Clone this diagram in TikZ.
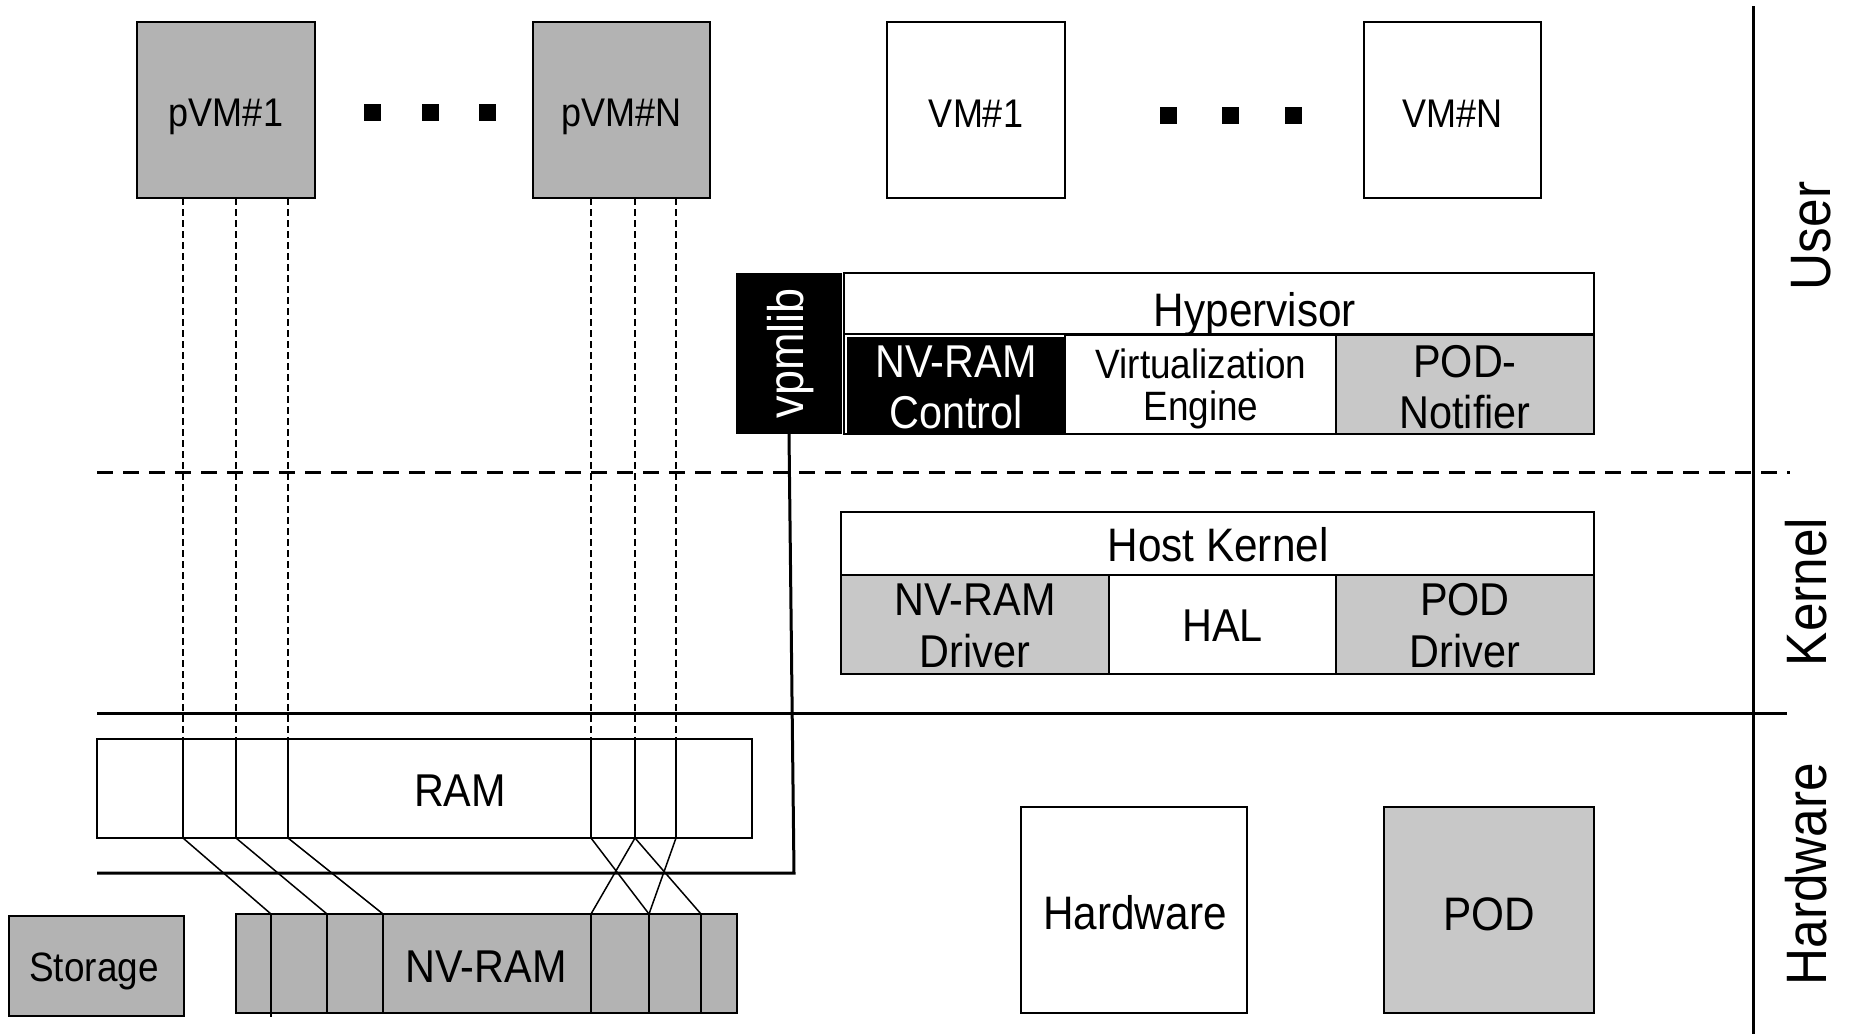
\documentclass[tikz,border=0pt]{standalone}
\usepackage{fontspec}
\setmainfont{Liberation Sans}[FakeStretch=0.9]
\usetikzlibrary{calc}
\definecolor{dgray}{HTML}{B3B3B3}
\definecolor{lgray}{HTML}{C8C8C8}
\newcommand\fsz[2]{\fontsize{#1}{#2}\selectfont}
\tikzset{
  bx/.style={draw, line width=2pt, inner sep=0pt, outer sep=0pt, anchor=center, align=center},
  lbl/.style={inner sep=0pt, outer sep=0pt, align=center},
  sq/.style={fill=black, inner sep=0pt, minimum size=17pt},
  thinline/.style={line width=1.5pt},
  dline/.style={line width=1.5pt, dash pattern=on 7pt off 4pt},
  thick3/.style={line width=3pt},
  bigdash/.style={line width=3pt, dash pattern=on 16pt off 10pt},
}
\begin{document}
\begin{tikzpicture}[x=1pt,y=-1pt]
\useasboundingbox (0,0) rectangle (1850,1034);

% ---------- top VM boxes ----------
\node[bx, fill=dgray, minimum width=178, minimum height=176] (pvm1) at (226,110) {};
\node[bx, fill=dgray, minimum width=177, minimum height=176] (pvmn) at (621.5,110) {};
\node[bx, fill=white, minimum width=178, minimum height=176] (vm1) at (976,110) {};
\node[bx, fill=white, minimum width=177, minimum height=176] (vmn) at (1452.5,110) {};
\node[lbl, font=\fsz{40}{44}] (pvm1t) at (226,117) {pVM\#1};
\node[lbl, font=\fsz{40}{44}] (pvmnt) at (621.5,117) {pVM\#N};
\node[lbl, font=\fsz{40}{44}] (vm1t) at (976,114) {VM\#1};
\node[lbl, font=\fsz{40}{44}] (vmnt) at (1452.5,114) {VM\#N};
\node[sq] (da1) at (372,112.5) {};
\node[sq] (da2) at (430,112.5) {};
\node[sq] (da3) at (487,112.5) {};
\node[sq] (db1) at (1168,115.5) {};
\node[sq] (db2) at (1230,115.5) {};
\node[sq] (db3) at (1293,115.5) {};

% ---------- vpmlib + hypervisor ----------
\node[fill=black, inner sep=0pt, minimum width=106, minimum height=161] (vpm) at (789,353.5) {};
\node[lbl, rotate=90, text=white, font=\fsz{50}{54}] (vpmt) at (791,353) {vpmlib};
\node[bx, fill=white, minimum width=750, minimum height=161] (hyp) at (1219,353.5) {};
\draw[line width=2pt] (844,334) -- (1594,334);
\node[fill=black, inner sep=0pt, minimum width=218, minimum height=97] (nvc) at (956,385.5) {};
\node[lbl, text=white, font=\fsz{46}{51}] (nvct) at (956,387) {NV-RAM\\Control};
\node[bx, fill=white, minimum width=271, minimum height=99] (ve) at (1200.5,384.5) {};
\node[lbl, font=\fsz{41}{42}] (vet) at (1201,389) {Virtualization\\Engine};
\node[bx, fill=lgray, minimum width=258, minimum height=99] (pn) at (1465,384.5) {};
\node[lbl, font=\fsz{46}{51}] (pnt) at (1465,387) {POD-\\Notifier};
\node[lbl, font=\fsz{47}{50}] (hypt) at (1255,314) {Hypervisor};

% ---------- host kernel ----------
\node[bx, fill=white, minimum width=753, minimum height=162] (hk) at (1217.5,593) {};
\node[lbl, font=\fsz{47}{50}] (hkt) at (1218,545) {Host Kernel};
\node[bx, fill=lgray, minimum width=268, minimum height=99] (nvd) at (975,624.5) {};
\node[bx, fill=white, minimum width=227, minimum height=99] (hal) at (1222.5,624.5) {};
\node[bx, fill=lgray, minimum width=258, minimum height=99] (pd) at (1465,624.5) {};
\node[lbl, font=\fsz{46}{52}] (nvdt) at (975,626) {NV-RAM\\Driver};
\node[lbl, font=\fsz{46}{50}] (halt) at (1222.5,626) {HAL};
\node[lbl, font=\fsz{46}{52}] (pdt) at (1465,626) {POD\\Driver};

% ---------- layer separators ----------
\coordinate (dl0) at (97,472);
\coordinate (dl1) at (1790,472);
\coordinate (sl0) at (97,713);
\coordinate (sl1) at (1787,713);
\coordinate (vl0) at (1753,6);
\coordinate (vl1) at (1753,1034);
\draw[bigdash] (dl0) -- (dl1);
\draw[thick3] (sl0) -- (sl1);
\draw[thick3] (vl0) -- (vl1);
\node[lbl, rotate=90, font=\fsz{57}{60}] (user) at (1811,236) {User};
\node[lbl, rotate=90, font=\fsz{57}{60}] (kern) at (1806,592) {Kernel};
\node[lbl, rotate=90, font=\fsz{57}{60}] (hw) at (1806,874) {Hardware};

% ---------- hardware ----------
\node[bx, fill=white, minimum width=655, minimum height=99] (ram) at (424.5,788.5) {};
\node[lbl, font=\fsz{46}{50}] (ramt) at (460,791) {RAM};
\node[bx, fill=dgray, minimum width=175, minimum height=100] (stor) at (96.5,966) {};
\node[lbl, font=\fsz{41}{44}] (stort) at (94,971) {Storage};
\node[bx, fill=dgray, minimum width=501, minimum height=99] (nvram) at (486.5,963.5) {};
\node[lbl, font=\fsz{46}{50}] (nvramt) at (486,967) {NV-RAM};
\node[bx, fill=white, minimum width=226, minimum height=206] (hwbox) at (1134,910) {};
\node[lbl, font=\fsz{47}{50}] (hwboxt) at (1135,913) {Hardware};
\node[bx, fill=lgray, minimum width=210, minimum height=206, line width=2.5pt] (pod) at (1489,910) {};
\node[lbl, font=\fsz{47}{50}] (podt) at (1489,914) {POD};

% bus line below RAM and vpmlib link
\coordinate (bl0) at (97,873);
\coordinate (bl1) at (794,873);
\coordinate (vpb) at (789,434);
\draw[thick3] (bl0) -- (bl1) -- (vpb);

% NV-RAM dividers
\foreach \x/\b in {271/1017,327/1013,383/1013,591/1013,649/1013,701/1013}{
  \coordinate (dv\x t) at (\x,914);
  \coordinate (dv\x b) at (\x,\b);
  \draw[thinline] (dv\x t) -- (dv\x b);
}

% pVM mappings: dashed down to RAM, solid through RAM
\foreach \x in {183,236,288}{
  \coordinate (p1\x a) at (\x,198);
  \coordinate (p1\x b) at (\x,739);
  \coordinate (p1\x c) at (\x,838);
  \draw[dline] (p1\x a) -- (p1\x b);
  \draw[thinline] (p1\x b) -- (p1\x c);
}
\foreach \x in {591,635,676}{
  \coordinate (pn\x a) at (\x,198);
  \coordinate (pn\x b) at (\x,739);
  \coordinate (pn\x c) at (\x,838);
  \draw[dline] (pn\x a) -- (pn\x b);
  \draw[thinline] (pn\x b) -- (pn\x c);
}
% diagonal links RAM -> NV-RAM
\draw[thinline] (p1183c) -- (dv271t);
\draw[thinline] (p1236c) -- (dv327t);
\draw[thinline] (p1288c) -- (dv383t);
\draw[thinline] (pn591c) -- (dv649t);
\draw[thinline] (pn635c) -- (dv591t);
\draw[thinline] (pn635c) -- (dv701t);
\draw[thinline] (pn676c) -- (dv649t);
\end{tikzpicture}
\end{document}
